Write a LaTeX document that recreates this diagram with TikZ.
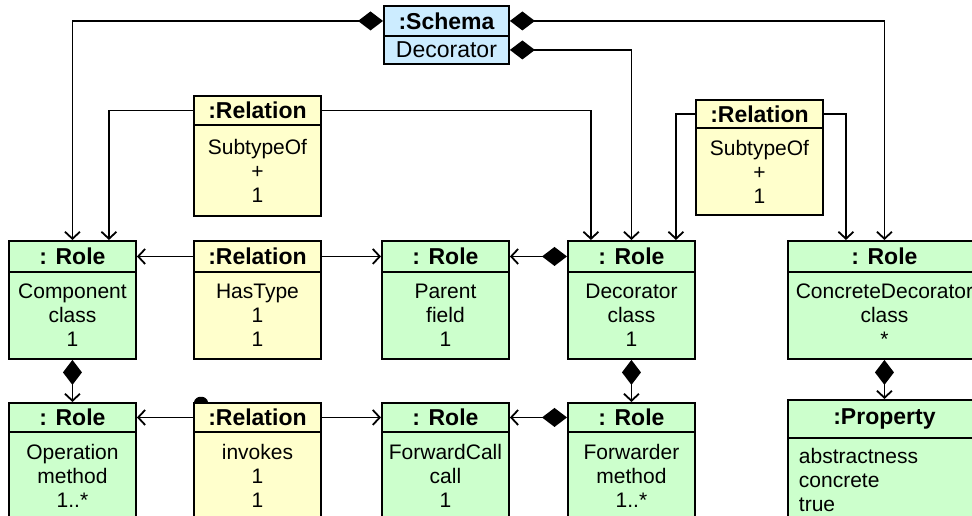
\documentclass[tikz,border=0pt]{standalone}
\usepackage{fontspec}
\setmainfont{Liberation Sans}
\usetikzlibrary{arrows.meta}
\definecolor{rolefill}{RGB}{204,255,204}
\definecolor{relfill}{RGB}{255,255,204}
\definecolor{schemafill}{RGB}{204,236,255}
\tikzset{
  box/.style={draw, line width=1.9pt, inner sep=0pt, anchor=north west,
              minimum width=127pt, align=center},
  hdr/.style={box, font=\bfseries\fontsize{23}{24}\selectfont},
  txt/.style={box, font=\fontsize{21}{24}\selectfont},
  role/.style={fill=rolefill},
  rel/.style={fill=relfill},
  sch/.style={fill=schemafill},
  wide/.style={minimum width=193pt},
  tipV/.tip={Straight Barb[length=7pt,width=15pt]},
  tipD/.tip={Diamond[length=25pt,width=19pt]},
  link/.style={line width=1.8pt, -tipV},
  owns/.style={line width=1.8pt, tipD-tipV},
}
\begin{document}
\begin{tikzpicture}[x=1pt, y=-1pt]
\useasboundingbox (0,0) rectangle (972,516);
\clip (0,0) rectangle (972,516);

% schema object
\node[hdr, sch, minimum width=125pt, minimum height=30pt] (schH) at (383,5) {:Schema};
\node[box, sch, minimum width=125pt, minimum height=28pt,
      font=\fontsize{23}{24}\selectfont] (schB) at (383,35) {Decorator};

% subtype relations
\node[hdr, rel, minimum height=29pt] (r1H) at (193,95) {:Relation};
\node[txt, rel, minimum height=91pt] (r1B) at (193,124) {SubtypeOf\\+\\1};
\node[hdr, rel, minimum height=28pt] (r2H) at (695,99) {:Relation};
\node[txt, rel, minimum height=87pt] (r2B) at (695,127) {SubtypeOf\\+\\1};

% class level roles
\node[hdr, role, minimum height=31pt] (compH) at (8,240) {: Role};
\node[txt, role, minimum height=87pt] (compB) at (8,271) {Component\\class\\1};
\node[hdr, rel, minimum height=31pt] (hasH) at (193,240) {:Relation};
\node[txt, rel, minimum height=87pt] (hasB) at (193,271) {HasType\\1\\1};
\node[hdr, role, minimum height=31pt] (parH) at (381,240) {: Role};
\node[txt, role, minimum height=87pt] (parB) at (381,271) {Parent\\field\\1};
\node[hdr, role, minimum height=31pt] (decH) at (567,240) {: Role};
\node[txt, role, minimum height=87pt] (decB) at (567,271) {Decorator\\class\\1};
\node[hdr, role, wide, minimum height=31pt] (concH) at (787,240) {: Role};
\node[txt, role, wide, minimum height=87pt] (concB) at (787,271) {ConcreteDecorator\\class\\*};

% method level roles
\node[hdr, role, minimum height=29pt] (opH) at (8,402) {: Role};
\node[txt, role, minimum height=87pt] (opB) at (8,431) {Operation\\method\\1..*};
\node[hdr, rel, minimum height=29pt] (invH) at (193,402) {:Relation};
\node[txt, rel, minimum height=87pt] (invB) at (193,431) {invokes\\1\\1};
\node[hdr, role, minimum height=29pt] (fcH) at (381,402) {: Role};
\node[txt, role, minimum height=87pt] (fcB) at (381,431) {ForwardCall\\call\\1};
\node[hdr, role, minimum height=29pt] (fwdH) at (567,402) {: Role};
\node[txt, role, minimum height=87pt] (fwdB) at (567,431) {Forwarder\\method\\1..*};
\node[hdr, role, wide, minimum height=38pt] (propH) at (787,399) {:Property};
\node[txt, role, wide, minimum height=84pt, align=left, text width=171pt,
      inner xsep=11pt] (propB) at (787,437) {abstractness\\concrete\\true};

% small mark on the invokes box
\fill (194,402) .. controls (195,395) and (207,395) .. (208,402) -- cycle;

% schema ownership
\draw[owns] (schH.west) -| (compH.north);
\draw[owns] (schH.east) -| (concH.north);
\draw[owns] (schB.east) -| (decH.north);

% subtype links
\draw[link] (r1H.west) -| ([xshift=36.5pt]compH.north);
\draw[link] (r1H.east) -| ([xshift=-40.5pt]decH.north);
\draw[link] (r2H.west) -| ([xshift=44.5pt]decH.north);
\draw[link] (r2H.east) -| ([xshift=-38.5pt]concH.north);

% class row links
\draw[link] (hasH.west) -- (compH.east);
\draw[link] (hasH.east) -- (parH.west);
\draw[owns] (decH.west) -- (parH.east);

% vertical compositions
\draw[owns] (compB.south) -- (opH.north);
\draw[owns] (decB.south) -- (fwdH.north);
\draw[owns] (concB.south) -- (propH.north);

% method row links
\draw[link] (invH.west) -- (opH.east);
\draw[link] (invH.east) -- (fcH.west);
\draw[owns] (fwdH.west) -- (fcH.east);
\end{tikzpicture}
\end{document}
